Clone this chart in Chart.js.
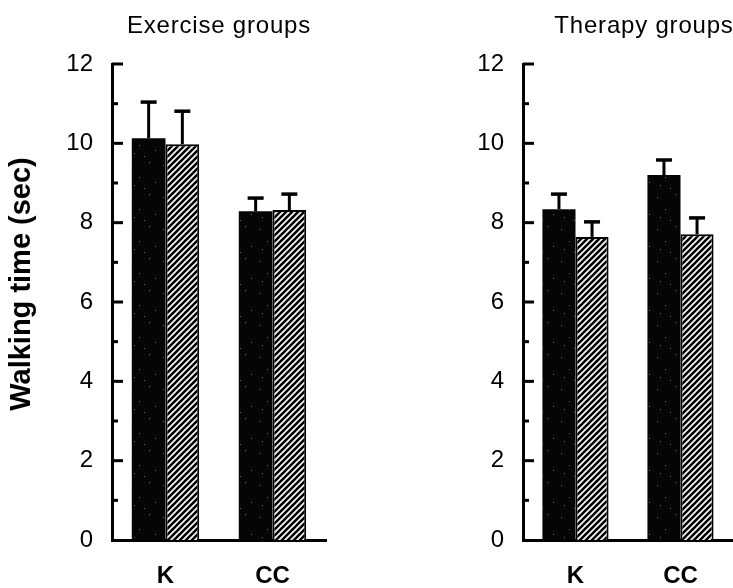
<!DOCTYPE html>
<html><head><meta charset="utf-8">
<script src="https://cdn.jsdelivr.net/npm/chart.js@4/dist/chart.umd.min.js"></script>
<style>
html,body{margin:0;padding:0;background:#fff;width:733px;height:588px;overflow:hidden}
.panel{position:absolute;top:0;height:588px}
#p1{left:0;width:345px}
#p2{left:430px;width:303px}
</style></head><body>
<div class="panel" id="p1"><canvas id="c1"></canvas></div>
<div class="panel" id="p2"><canvas id="c2"></canvas></div>
<script>
// ---- data ----
const categories = ['K', 'CC'];
const yTickLabels = [0, 2, 4, 6, 8, 10, 12];
const exerciseTitle = 'Exercise groups';
const therapyTitle = 'Therapy groups';
const yAxisTitle = 'Walking time (sec)';
const exerciseBlack = [10.13, 8.29];
const exerciseBlackErr = [0.91, 0.33];
const exerciseHatched = [9.98, 8.32];
const exerciseHatchedErr = [0.83, 0.40];
const therapyBlack = [8.34, 9.20];
const therapyBlackErr = [0.38, 0.38];
const therapyHatched = [7.64, 7.71];
const therapyHatchedErr = [0.38, 0.41];

// ---- fill patterns ----
function stipplePattern() {
  const c = document.createElement('canvas'); c.width = 32; c.height = 32;
  const g = c.getContext('2d');
  g.fillStyle = '#050505'; g.fillRect(0, 0, 32, 32);
  g.fillStyle = '#6a6a6a';
  [[3,5],[21,2],[11,17],[27,22],[16,28],[6,25]].forEach(p => g.fillRect(p[0], p[1], 1, 1));
  return g.createPattern(c, 'repeat');
}
function hatchPattern() {
  const s = 6;
  const c = document.createElement('canvas'); c.width = s; c.height = s;
  const g = c.getContext('2d');
  g.fillStyle = '#fff'; g.fillRect(0, 0, s, s);
  g.strokeStyle = '#000'; g.lineWidth = 2.6; g.lineCap = 'square';
  g.beginPath();
  g.moveTo(0, s); g.lineTo(s, 0);
  g.moveTo(-s/2, s/2); g.lineTo(s/2, -s/2);
  g.moveTo(s/2, s*1.5); g.lineTo(s*1.5, s/2);
  g.stroke();
  return g.createPattern(c, 'repeat');
}

const decor = {
  id: 'decor',
  afterDatasetsDraw(chart, args, o) {
    const ctx = chart.ctx, ys = chart.scales.y;
    ctx.save();
    ctx.strokeStyle = '#000';
    chart.data.datasets.forEach((ds, i) => {
      const meta = chart.getDatasetMeta(i);
      meta.data.forEach((bar, j) => {
        const yTop = ys.getPixelForValue(ds.data[j] + ds.errors[j]);
        const yBar = ys.getPixelForValue(ds.data[j]);
        ctx.lineWidth = 3;
        ctx.beginPath(); ctx.moveTo(bar.x, yBar); ctx.lineTo(bar.x, yTop); ctx.stroke();
        ctx.lineWidth = 3.5;
        ctx.beginPath(); ctx.moveTo(bar.x - 8, yTop); ctx.lineTo(bar.x + 8, yTop); ctx.stroke();
      });
    });
    ctx.restore();
  },
  afterDraw(chart, args, o) {
    const ctx = chart.ctx, ys = chart.scales.y, area = chart.chartArea;
    ctx.save();
    ctx.strokeStyle = '#000'; ctx.lineWidth = 3;
    ys.ticks.forEach(t => {
      if (t.value === 0) return;
      const y = ys.getPixelForValue(t.value);
      const len = yTickLabels.includes(t.value) ? 11 : 6;
      ctx.beginPath(); ctx.moveTo(area.left, y); ctx.lineTo(area.left + len, y); ctx.stroke();
    });
    ctx.fillStyle = '#000';
    ctx.font = '24px "Liberation Sans", Arial, sans-serif';
    ctx.letterSpacing = '0.8px';
    ctx.textAlign = 'center'; ctx.textBaseline = 'alphabetic';
    ctx.fillText(o.title, o.titleX, 33);
    ctx.letterSpacing = '0px';
    if (o.yTitle) {
      ctx.translate(22, 284); ctx.rotate(-Math.PI / 2);
      ctx.font = 'bold 29px "Liberation Sans", Arial, sans-serif';
      ctx.textBaseline = 'middle';
      ctx.fillText(o.yTitle, 0, 0);
    }
    ctx.restore();
  }
};

function makeChart(id, black, blackErr, hatched, hatchedErr, title, titleX, yWidth, padRight, yTitle) {
  return new Chart(document.getElementById(id), {
    type: 'bar',
    data: {
      labels: categories,
      datasets: [
        { data: black, errors: blackErr, backgroundColor: stipplePattern(), borderWidth: 0,
          categoryPercentage: 0.63, barPercentage: 1.0 },
        { data: hatched, errors: hatchedErr, backgroundColor: hatchPattern(), borderColor: '#000', borderWidth: 2,
          categoryPercentage: 0.63, barPercentage: 1.0 }
      ]
    },
    options: {
      responsive: true, maintainAspectRatio: false, animation: false, devicePixelRatio: 1,
      layout: { padding: { left: 0, right: padRight, top: 64, bottom: 0 } },
      plugins: { legend: { display: false }, tooltip: { enabled: false },
                 decor: { title: title, titleX: titleX, yTitle: yTitle } },
      scales: {
        x: {
          z: 1,
          grid: { display: false, drawTicks: false },
          border: { display: true, color: '#000', width: 3 },
          ticks: { color: '#000', font: { family: '"Liberation Sans", Arial, sans-serif', size: 24, weight: 'bold' }, padding: 22 },
          afterFit: s => { s.height = 48; }
        },
        y: {
          z: 1,
          min: 0, max: 12,
          grid: { display: false, drawTicks: false },
          border: { display: true, color: '#000', width: 3 },
          ticks: { stepSize: 1, autoSkip: false, color: '#000', padding: 19,
                   font: { family: '"Liberation Sans", Arial, sans-serif', size: 24 },
                   callback: v => yTickLabels.includes(v) ? String(v) : '' },
          afterFit: s => { s.width = yWidth; }
        }
      }
    },
    plugins: [decor]
  });
}

makeChart('c1', exerciseBlack, exerciseBlackErr, exerciseHatched, exerciseHatchedErr, exerciseTitle, 219, 112, 19, yAxisTitle);
makeChart('c2', therapyBlack, therapyBlackErr, therapyHatched, therapyHatchedErr, therapyTitle, 214, 93, 0, null);
</script>
</body></html>
